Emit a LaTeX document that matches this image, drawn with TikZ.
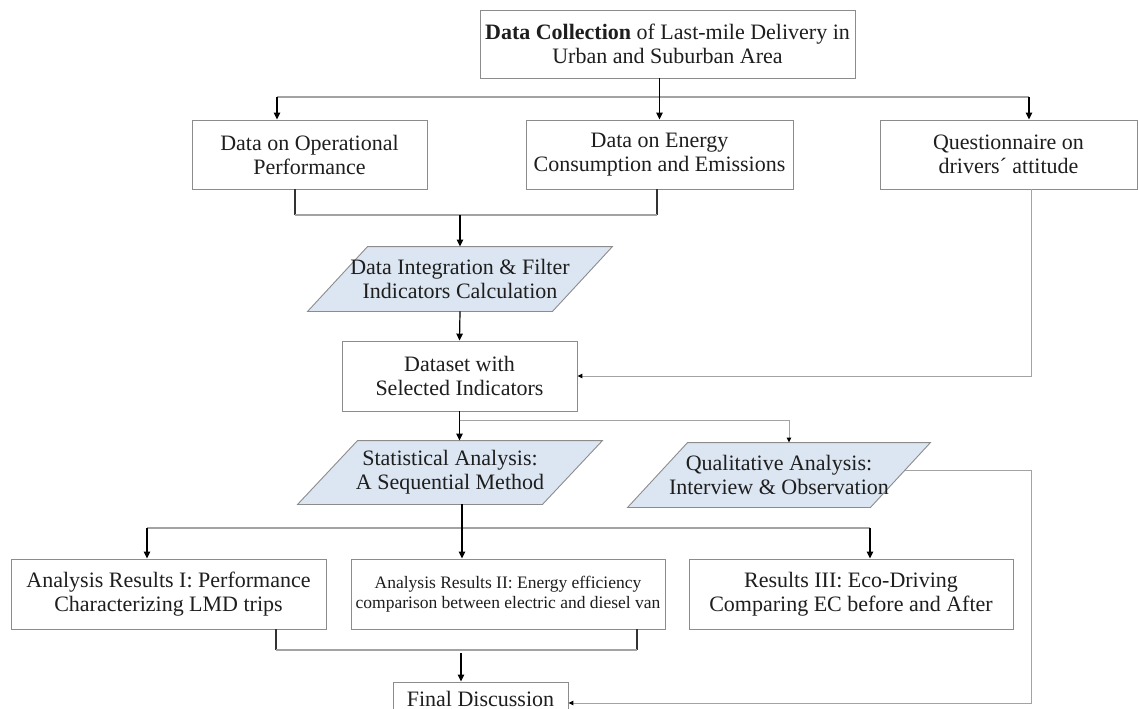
\documentclass[tikz,border=0pt]{standalone}
\usepackage{fontspec}
\setmainfont{Liberation Serif}
\usetikzlibrary{arrows.meta,backgrounds,calc}
\definecolor{boxgray}{HTML}{8C8C8C}
\definecolor{linegray}{HTML}{A3A3A3}
\definecolor{legcol}{HTML}{333333}
\definecolor{parafill}{HTML}{DCE6F2}
\definecolor{txt}{HTML}{1E1E1E}
\begin{document}
\begin{tikzpicture}[x=1pt,y=-1pt,
  box/.style={draw=boxgray, line width=0.9pt, fill=white, text=txt, align=center,
    font=\fontsize{22}{24}\selectfont, inner sep=0pt},
  smallbox/.style={box, font=\fontsize{17.5}{20}\selectfont},
  paratext/.style={box, draw=none, fill=none},
  parashape/.style={fill=parafill, draw=boxgray, line width=0.9pt},
  arr/.style={-{Triangle[length=7pt,width=6.5pt]}, line width=1.2pt, black},
  thinarr/.style={-{Triangle[length=5pt,width=4.5pt,color=black]}, line width=1pt, linegray},
  gline/.style={line width=1.1pt, linegray},
  legline/.style={line width=1.1pt, legcol}]
\path[use as bounding box, clip] (0,0) rectangle (1138,709);

% boxes
\node[box, minimum width=375pt, minimum height=68pt] (top) at (667.5,44)
  {\textbf{Data Collection} of Last-mile Delivery in\\Urban and Suburban Area};
\node[box, minimum width=235pt, minimum height=69pt] (op) at (309.5,154.5)
  {Data on Operational\\Performance};
\node[box, minimum width=267pt, minimum height=69pt] (en) at (659.5,154.5)
  {Data on Energy\\Consumption and Emissions};
\node[box, minimum width=257pt, minimum height=69pt] (qu) at (1008.5,154.5)
  {Questionnaire on\\drivers´ attitude};
\node[paratext, minimum width=244pt, minimum height=64pt] (integ) at (460,279)
  {Data Integration \& Filter\\Indicators Calculation};
\node[box, minimum width=235pt, minimum height=70pt] (data) at (459.5,376)
  {Dataset with\\Selected Indicators};
\node[paratext, minimum width=244pt, minimum height=63pt] (stat) at (450,472.5)
  {Statistical Analysis:\\A Sequential Method};
\node[paratext, minimum width=242pt, minimum height=64pt] (qual) at (779,475)
  {Qualitative Analysis:\\Interview \& Observation};
\node[box, minimum width=315pt, minimum height=70pt] (r1) at (168.5,594)
  {Analysis Results I: Performance\\Characterizing LMD trips};
\node[smallbox, minimum width=314pt, minimum height=70pt] (r2) at (508,594)
  {Analysis Results II: Energy efficiency\\comparison between electric and diesel van};
\node[box, minimum width=324pt, minimum height=70pt] (r3) at (851,594)
  {Results III: Eco-Driving\\Comparing EC before and After};
\node[box, minimum width=175pt, minimum height=34pt] (final) at (480.5,699)
  {Final Discussion};

% parallelogram outlines
\begin{scope}[on background layer]
  \fill[white] (0,0) rectangle (1138,709);
  \foreach \n in {integ,stat,qual}{
    \path[parashape] ([xshift=30pt]\n.north west) -- ([xshift=30pt]\n.north east)
      -- ([xshift=-30pt]\n.south east) -- ([xshift=-30pt]\n.south west) -- cycle;
  }
\end{scope}

% helper coordinates
\coordinate (bus1) at (0,97);
\coordinate (brk1) at (0,215);
\coordinate (split2) at (0,420);
\coordinate (bus2) at (0,528);
\coordinate (brk2) at (0,650);
\coordinate (opin) at ([xshift=-32.5pt]op.north);
\coordinate (quin) at ([xshift=20.5pt]qu.north);
\coordinate (opout) at ([xshift=-14.5pt]op.south);
\coordinate (enout) at ([xshift=-2.5pt]en.south);
\coordinate (quout) at ([xshift=22.5pt]qu.south);
\coordinate (qualin) at ([xshift=10pt]qual.north);
\coordinate (statout) at ([xshift=12pt]stat.south);
\coordinate (r1in) at ([xshift=-21.5pt]r1.north);
\coordinate (r3in) at ([xshift=19pt]r3.north);
\coordinate (r1out) at ([xshift=107.5pt]r1.south);
\coordinate (r2out) at ([xshift=129pt]r2.south);
\coordinate (finin) at ([xshift=-19.5pt]final.north);
\coordinate (finright) at ([yshift=-4pt]final.east);
\coordinate (qualout) at ([xshift=4.7pt,yshift=5pt]qual.east);
\coordinate (rightcol) at (1031,0);

% top distribution
\draw[gline] (opin |- bus1) -- (quin |- bus1);
\draw[arr] (top.south -| en.north) -- (en.north);
\draw[arr] (opin |- bus1) -- (opin);
\draw[arr] (quin |- bus1) -- (quin);

% merge into integration
\draw[legline] (opout) -- (opout |- brk1);
\draw[legline] (enout) -- (enout |- brk1);
\draw[gline] (opout |- brk1) -- (enout |- brk1);
\draw[arr] (integ.north |- brk1) -- (integ.north);
\draw[arr] (integ.south) -- (data.north);

% questionnaire to dataset
\draw[thinarr] (quout) |- (data.east);

% dataset to analyses
\draw[arr] (data.south) -- (data.south |- stat.north);
\draw[thinarr] (data.south |- split2) -| (qualin);

% statistical to results
\draw[gline] (r1in |- bus2) -- (r3in |- bus2);
\draw[arr] (statout) -- (statout |- r2.north);
\draw[arr] (r1in |- bus2) -- (r1in);
\draw[arr] (r3in |- bus2) -- (r3in);

% results to final
\draw[legline] (r1out) -- (r1out |- brk2);
\draw[legline] (r2out) -- (r2out |- brk2);
\draw[gline] (r1out |- brk2) -- (r2out |- brk2);
\draw[arr] ([yshift=-3pt]finin |- brk2) -- (finin);

% qualitative to final
\draw[thinarr] (qualout) -- (rightcol |- qualout) -- (rightcol |- finright) -- (finright);
\end{tikzpicture}
\end{document}
